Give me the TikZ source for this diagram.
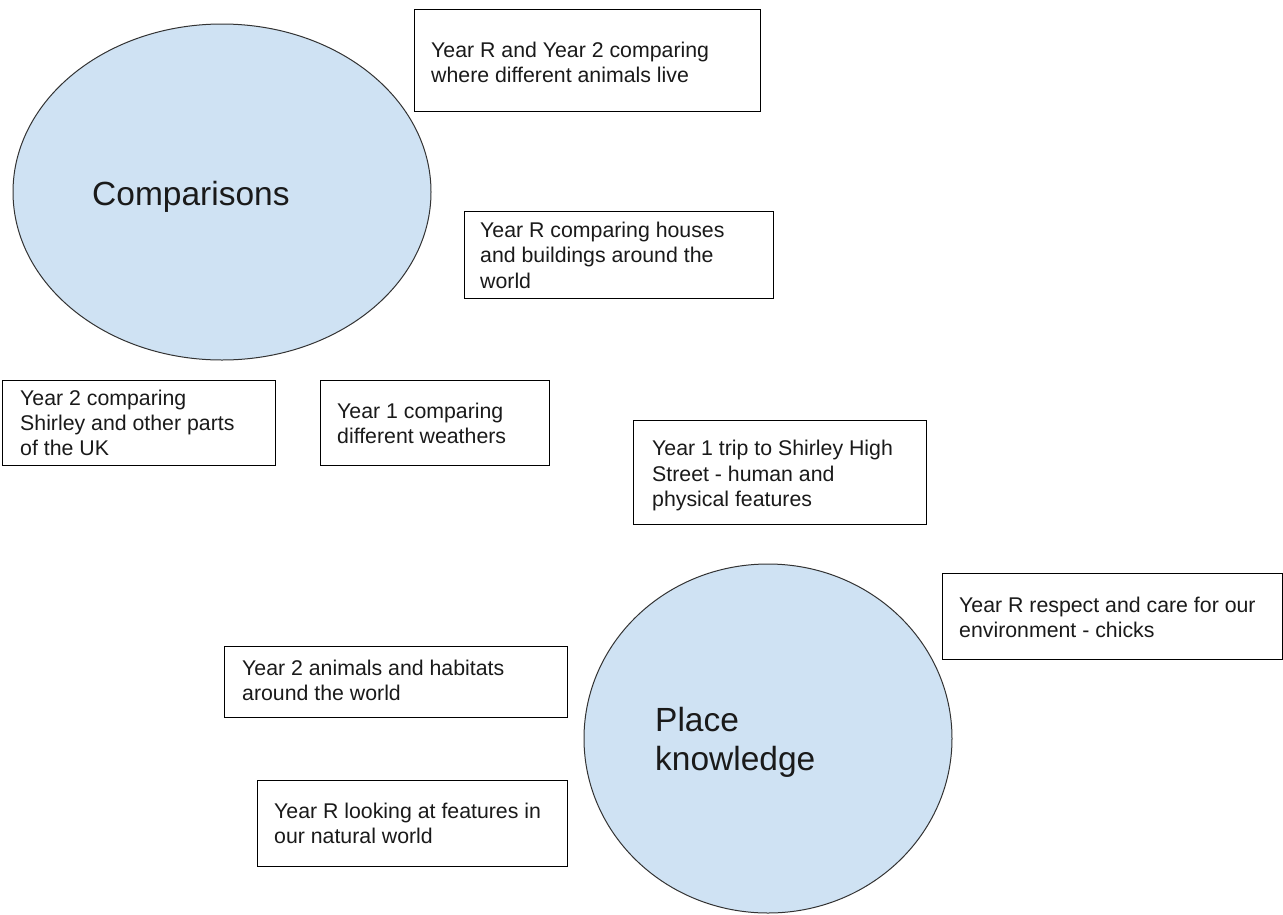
\documentclass[tikz,border=0pt]{standalone}
\usepackage{fontspec}
\setmainfont{Liberation Sans}
\usetikzlibrary{shapes.geometric}
\definecolor{bubblefill}{HTML}{CFE2F3}
\definecolor{inkc}{HTML}{1A1A1A}
\begin{document}
\begin{tikzpicture}[x=1pt,y=-1pt,
  box/.style={draw=black, line width=1.3pt, rectangle, inner sep=0pt, anchor=north west},
  bubble/.style={ellipse, draw=black!80, line width=1pt, fill=bubblefill, inner sep=0pt},
  small/.style={anchor=base west, inner sep=0pt, font=\fontsize{21.3}{25.3}\selectfont, text=inkc},
  big/.style={anchor=base west, inner sep=0pt, font=\fontsize{33.5}{39}\selectfont, text=inkc}]
\useasboundingbox[fill=white] (0,0) rectangle (1283,914);

% bubbles
\node[bubble, minimum width=418pt, minimum height=336pt] (c1) at (222,192) {};
\node[bubble, minimum width=368pt, minimum height=349pt] (c2) at (768,738.5) {};
\node[big] (tc1) at (92,205) {Comparisons};
\node[big] (tc2) at (655,731.5) {\vtop{\hbox{Place}\hbox{knowledge}}};

% boxes
\node[box, minimum width=346pt, minimum height=102pt] (b1) at (414,9) {};
\node[small] (t1) at (431,57) {\vtop{\hbox{Year R and Year 2 comparing}\hbox{where different animals live}}};

\node[box, minimum width=309pt, minimum height=87pt] (b2) at (464,211) {};
\node[small] (t2) at (480,237.5) {\vtop{\hbox{Year R comparing houses}\hbox{and buildings around the}\hbox{world}}};

\node[box, minimum width=273pt, minimum height=85pt] (b3) at (2,380) {};
\node[small] (t3) at (20,405) {\vtop{\hbox{Year 2 comparing}\hbox{Shirley and other parts}\hbox{of the UK}}};

\node[box, minimum width=229pt, minimum height=85pt] (b4) at (320,380) {};
\node[small] (t4) at (337,418) {\vtop{\hbox{Year 1 comparing}\hbox{different weathers}}};

\node[box, minimum width=293pt, minimum height=104pt] (b5) at (633,420) {};
\node[small] (t5) at (652,455.7) {\vtop{\hbox{Year 1 trip to Shirley High}\hbox{Street - human and}\hbox{physical features}}};

\node[box, minimum width=340pt, minimum height=86pt] (b6) at (942,573) {};
\node[small] (t6) at (959,612.5) {\vtop{\hbox{Year R respect and care for our}\hbox{environment - chicks}}};

\node[box, minimum width=343pt, minimum height=71pt] (b7) at (224,646) {};
\node[small] (t7) at (242,675) {\vtop{\hbox{Year 2 animals and habitats}\hbox{around the world}}};

\node[box, minimum width=310pt, minimum height=86pt] (b8) at (257,780) {};
\node[small] (t8) at (274,818) {\vtop{\hbox{Year R looking at features in}\hbox{our natural world}}};
\end{tikzpicture}
\end{document}
